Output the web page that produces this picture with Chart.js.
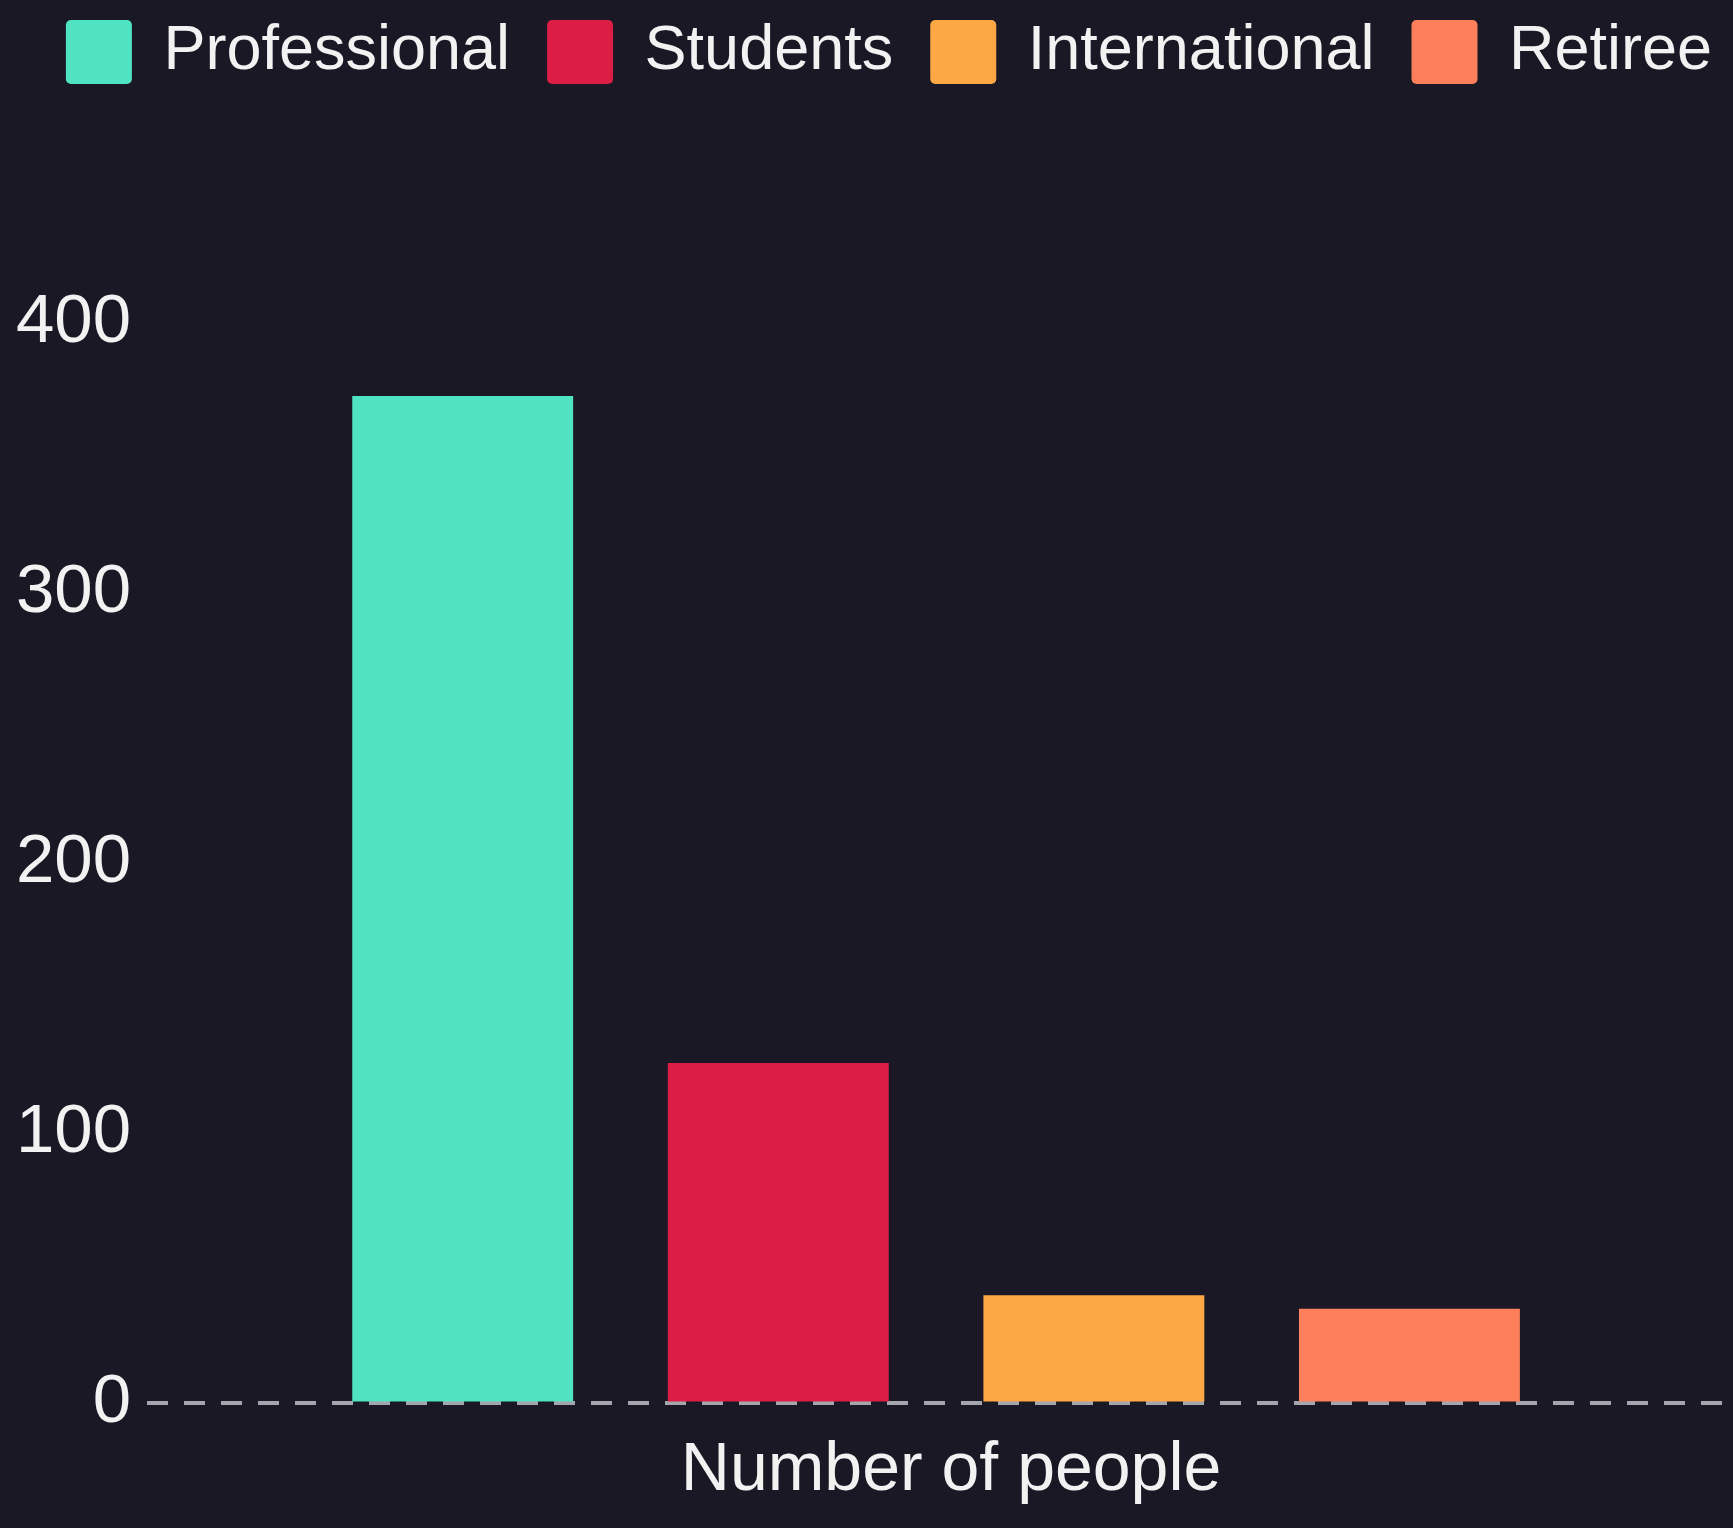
<!DOCTYPE html>
<html>
<head>
<meta charset="utf-8">
<script src="https://cdn.jsdelivr.net/npm/chart.js@4.4.0/dist/chart.umd.min.js"></script>
<style>
  html, body { margin: 0; padding: 0; background: #1a1825; }
  #bar_chart { display: block; }
</style>
</head>
<body>
<canvas id="bar_chart" width="1733" height="1528"></canvas>
<script>
var categories = ['Number of people'];
var seriesNames = ['Professional', 'Students', 'International', 'Retiree'];
var professional = [373];
var students = [126];
var international = [40];
var retiree = [35];
var yTicks = [0, 100, 200, 300, 400];
var colors = ['#50e3c2', '#dc1e47', '#fba845', '#fd7f5c'];

var fontFamily = "'Liberation Sans', Arial, sans-serif";

// keep legend on one row and push the plot area down under it
var legendSpace = {
    id: 'legendSpace',
    beforeInit: function (chart) {
        var fit = chart.legend.fit;
        chart.legend.fit = function () {
            var mw = this.maxWidth;
            this.maxWidth = 4000;
            fit.bind(chart.legend)();
            this.maxWidth = mw;
            this.width = mw;
            this.height = 340;
        };
    },
    afterLayout: function (chart) {
        chart.legend.left = -10;
        chart.legend.right = 1788;
    }
};

function getChartJs() {
    var values = [professional, students, international, retiree];
    var datasets = seriesNames.map(function (name, i) {
        return {
            label: name,
            data: values[i],
            backgroundColor: colors[i],
            borderWidth: 0,
            borderRadius: 0,
            barPercentage: 0.7,
            categoryPercentage: 0.8
        };
    });
    return {
        type: 'bar',
        data: { labels: categories, datasets: datasets },
        options: {
            responsive: false,
            animation: false,
            devicePixelRatio: 1,
            layout: { padding: { top: -17, left: 0, right: 8, bottom: -11 } },
            plugins: {
                legend: {
                    position: 'top',
                    labels: {
                        color: '#f2f2f2',
                        font: { size: 63, family: fontFamily },
                        boxWidth: 66,
                        boxHeight: 64,
                        padding: 37,
                        useBorderRadius: true,
                        borderRadius: 5
                    }
                },
                tooltip: { enabled: false }
            },
            scales: {
                x: {
                    grid: { display: false, drawTicks: false },
                    border: { display: false },
                    ticks: { color: '#f2f2f2', padding: 27, labelOffset: 15, font: { size: 68, family: fontFamily } }
                },
                y: {
                    min: yTicks[0],
                    max: yTicks[yTicks.length - 1],
                    z: 1,
                    grid: {
                        drawTicks: false,
                        lineWidth: 4,
                        color: function (ctx) {
                            return ctx.tick && ctx.tick.value === 0 ? '#a5a5ad' : 'rgba(0,0,0,0)';
                        }
                    },
                    border: { display: false, dash: [21, 16] },
                    afterBuildTicks: function (axis) {
                        axis.ticks = yTicks.map(function (v) { return { value: v }; });
                    },
                    ticks: { color: '#f2f2f2', padding: 16, font: { size: 69, family: fontFamily } }
                }
            }
        },
        plugins: [legendSpace]
    };
}

new Chart(document.getElementById('bar_chart').getContext('2d'), getChartJs());
</script>
</body>
</html>
